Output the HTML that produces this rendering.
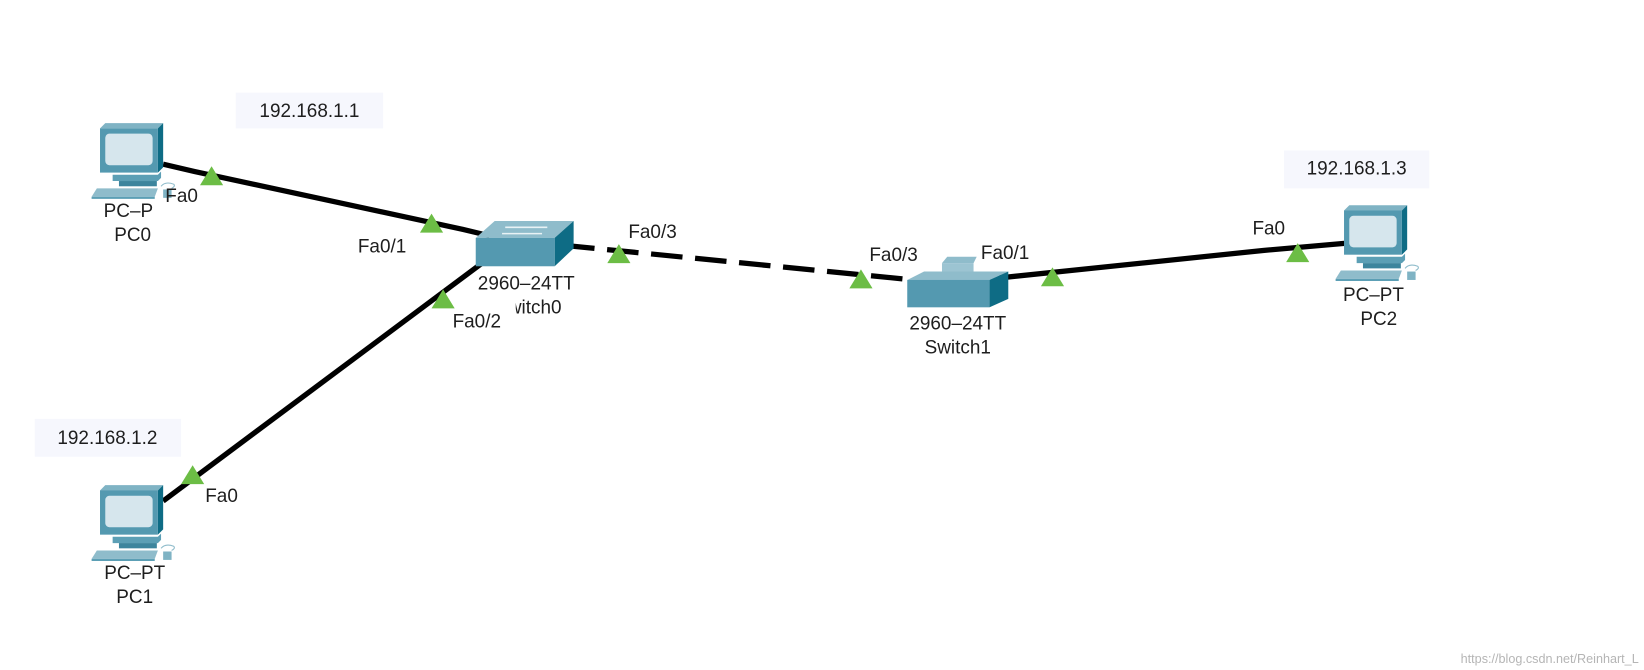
<!DOCTYPE html>
<html><head><meta charset="utf-8"><style>
html,body{margin:0;padding:0;background:#fff;}
svg{display:block;}
text{font-family:"Liberation Sans","DejaVu Sans",sans-serif;fill:#1e1e1e;font-size:18px;}
</style></head><body>
<svg width="1644" height="670" viewBox="0 0 1562 636.6" xmlns="http://www.w3.org/2000/svg">
<defs>
<g id="pc">
  <polygon points="0,5 5,0 60,0 55,5" fill="#7fb3c4"/>
  <polygon points="55,5 60,0 60,42 55,47" fill="#0e6c85"/>
  <rect x="0" y="5" width="55" height="42" fill="#5499b0"/>
  <rect x="5" y="10" width="45" height="30" rx="4" fill="#d6e6ed"/>
  <polygon points="12,49 55,49 58,46 58,52 55,55 12,55" fill="#5c9fb5"/>
  <rect x="18" y="55" width="36" height="5" fill="#3d859d"/>
  <polygon points="-8,70 -3,62 55,62 52,70" fill="#8fbccb"/>
  <polygon points="-8,70 52,70 52,72 -8,72" fill="#5c9fb5"/>
  <rect x="60" y="63" width="8" height="8" fill="#7fb3c4"/>
  <path d="M58,60 Q62,55 70,58 Q72,60 68,62" stroke="#8fbccb" fill="none" stroke-width="1"/>
</g>
<polygon id="tri" points="-11,9 0,-9 11,9" fill="#6cbd45"/>
</defs>

<rect x="224" y="88" width="140" height="34" fill="#f6f7fd"/>
<text x="294" y="111" text-anchor="middle">192.168.1.1</text>
<rect x="33" y="398" width="139" height="36" fill="#f6f7fd"/>
<text x="102" y="422" text-anchor="middle">192.168.1.2</text>
<rect x="1220" y="143" width="138" height="36" fill="#f6f7fd"/>
<text x="1289" y="166" text-anchor="middle">192.168.1.3</text>

<polyline points="155,156 185,163 440,218 465,224" fill="none" stroke="#000" stroke-width="5"/>
<line x1="155" y1="476" x2="458" y2="250" stroke="#000" stroke-width="5"/>
<line x1="535" y1="233" x2="868" y2="266" stroke="#000" stroke-width="5" stroke-dasharray="30,12"/>
<polyline points="950,264 1200,238 1280,231" fill="none" stroke="#000" stroke-width="5"/>

<polygon points="452,226 470,210 545,210 527,226" fill="#8fbccb"/>
<polygon points="527,226 545,210 545,236 527,253" fill="#0e6c85"/>
<rect x="452" y="226" width="75" height="27" fill="#5499b0"/>
<path d="M480,216 H520 M477,222 H515" stroke="#e8f2f5" stroke-width="1.5"/>
<polygon points="895,250 900,244 928,244 925,250" fill="#8fbccb"/>
<rect x="895" y="250" width="30" height="8" fill="#9cc4d2"/>
<polygon points="862,266 878,258 958,258 940,266" fill="#8fbccb"/>
<polygon points="940,266 958,258 958,284 940,292" fill="#0e6c85"/>
<rect x="862" y="266" width="78" height="26" fill="#5499b0"/>

<use href="#pc" x="95" y="117"/>
<use href="#pc" x="95" y="461"/>
<use href="#pc" x="1277" y="195"/>

<use href="#tri" x="201" y="167"/>
<use href="#tri" x="410" y="212"/>
<use href="#tri" x="421" y="284"/>
<use href="#tri" x="183" y="451"/>
<use href="#tri" x="588" y="241"/>
<use href="#tri" x="818" y="265"/>
<use href="#tri" x="1000" y="263"/>
<use href="#tri" x="1233" y="240"/>

<text x="122" y="206" text-anchor="middle">PC–P</text>
<text x="126" y="229" text-anchor="middle">PC0</text>
<text x="157" y="192">Fa0</text>
<text x="340" y="240">Fa0/1</text>
<text x="500" y="275" text-anchor="middle">2960–24TT</text>
<text x="502" y="298" text-anchor="middle">Switch0</text>
<rect x="433" y="281" width="57" height="24" fill="#fff"/>
<text x="430" y="311">Fa0/2</text>
<text x="597" y="226">Fa0/3</text>
<text x="826" y="248">Fa0/3</text>
<text x="932" y="246">Fa0/1</text>
<text x="910" y="313" text-anchor="middle">2960–24TT</text>
<text x="910" y="336" text-anchor="middle">Switch1</text>
<text x="195" y="477">Fa0</text>
<text x="128" y="550" text-anchor="middle">PC–PT</text>
<text x="128" y="573" text-anchor="middle">PC1</text>
<text x="1190" y="223">Fa0</text>
<text x="1305" y="286" text-anchor="middle">PC–PT</text>
<text x="1310" y="309" text-anchor="middle">PC2</text>
<text x="1557" y="630" text-anchor="end" style="font-size:12px;fill:#b5b5b5">https://blog.csdn.net/Reinhart_L</text>
</svg>
</body></html>
